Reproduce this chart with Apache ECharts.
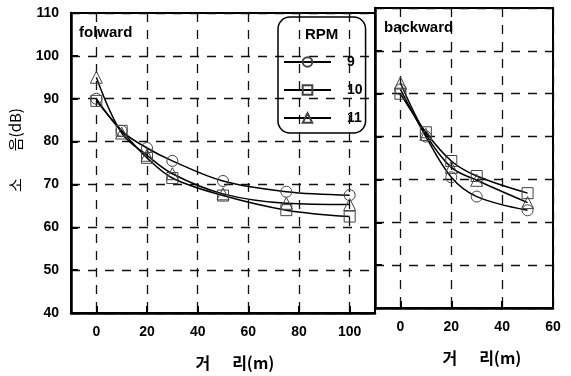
<!DOCTYPE html>
<html>
<head>
<meta charset="utf-8">
<script src="https://cdn.jsdelivr.net/npm/echarts@6/dist/echarts.min.js"></script>
<style>
  html, body { margin: 0; padding: 0; background: #fff; }
  #chart { width: 571px; height: 376px; }
</style>
</head>
<body>
<div id="chart"></div>
<script>
// distances (m)
const distFwd = [0, 10, 20, 30, 50, 75, 100];
const distBwd = [0, 10, 20, 30, 50];

// RPM legend names
const rpmNames = ["9", "10", "11"];

// sound level (dB), forward
const fwd9 = [90, 82.5, 78.5, 75.5, 70.8, 68.3, 67.5];
const fwd10 = [89.5, 82.5, 76.2, 71.5, 67.4, 64, 62.5];
const fwd11 = [95, 82, 76.8, 72.5, 67.8, 65.6, 65.3];

// sound level (dB), backward
const bwd9 = [91, 80, 70.5, 66, 62.8];
const bwd10 = [90, 81, 74.3, 70.8, 66.8];
const bwd11 = [92.5, 80.5, 72.8, 69.8, 64.6];

const xTicksFwd = [0, 20, 40, 60, 80, 100];
const xTicksBwd = [0, 20, 40, 60];

const numFont = "Liberation Sans";
const krFont = "Noto Sans CJK KR";

const chart = echarts.init(document.getElementById("chart"));

const symbols = ["circle", "rect", "triangle"];
const symbolSizes = [11, 11, 12];

function pairs(xs, ys) {
  return xs.map((x, i) => [x, ys[i]]);
}

function makeSeries(idx, xs, ys, name) {
  const k = rpmNames.indexOf(name);
  return {
    type: "line",
    name: name,
    xAxisIndex: idx,
    yAxisIndex: idx,
    data: pairs(xs, ys),
    smooth: 0.35,
    symbol: symbols[k],
    symbolSize: symbolSizes[k],
    itemStyle: { color: "rgba(255,255,255,0)", borderColor: "#444", borderWidth: 1 },
    lineStyle: { color: "#000", width: 1.5 },
    z: 5,
  };
}

const dashed = { color: "#111", width: 1.3, type: [9, 8] };

function xAxisFor(grid, min, max, ticks, nameShift) {
  return {
    type: "value",
    gridIndex: grid,
    min: min,
    max: max,
    name: "거      리(m)",
    nameLocation: "middle",
    nameGap: 42,
    nameTextStyle: { fontFamily: krFont, fontSize: 16, fontWeight: "bold", color: "#000", padding: [0, 0, 0, nameShift] },
    axisLine: { show: true, onZero: false, lineStyle: { color: "#000", width: 2.5 } },
    axisTick: { show: true, inside: true, length: 7, customValues: ticks, lineStyle: { color: "#000", width: 2 } },
    axisLabel: { customValues: ticks, margin: 12, fontFamily: numFont, fontWeight: "bold", fontSize: 14, color: "#000" },
    splitLine: { show: true, lineStyle: dashed },
  };
}

function yAxisFor(grid, showLabels) {
  return {
    type: "value",
    gridIndex: grid,
    min: 40,
    max: 110,
    interval: 10,
    name: showLabels ? "소        음(dB)" : "",
    nameLocation: "middle",
    nameGap: 48,
    nameRotate: 90,
    nameTextStyle: { fontFamily: krFont, fontSize: 15, color: "#000", padding: [0, 0, 0, 26] },
    axisLine: { show: true, onZero: false, lineStyle: { color: "#000", width: 2.5 } },
    axisTick: { show: true, inside: true, length: 7, lineStyle: { color: "#000", width: 2 } },
    axisLabel: { show: showLabels, margin: 12, fontFamily: numFont, fontWeight: "bold", fontSize: 14, color: "#000" },
    splitLine: { show: true, lineStyle: dashed },
  };
}

chart.setOption({
  animation: false,
  backgroundColor: "#fff",
  title: [
    { text: "folward", left: 74, top: 20, textStyle: { fontFamily: numFont, fontWeight: "bold", fontSize: 15, color: "#000" } },
    { text: "backward", left: 379, top: 15, textStyle: { fontFamily: numFont, fontWeight: "bold", fontSize: 15, color: "#000" } },
    { text: "RPM", left: 300, top: 22, textStyle: { fontFamily: numFont, fontWeight: "bold", fontSize: 15, color: "#000" } },
  ],
  legend: {
    data: rpmNames,
    orient: "vertical",
    left: 278,
    top: 17,
    padding: [38, 3, 8, 5],
    itemWidth: 47,
    itemHeight: 12,
    itemGap: 14,
    borderColor: "#000",
    borderWidth: 1.5,
    borderRadius: 12,
    selectedMode: false,
    textStyle: { fontFamily: numFont, fontWeight: "bold", fontSize: 14, color: "#000", padding: [0, 0, 0, 11] },
  },
  grid: [
    { left: 70, top: 13, width: 305, height: 300, show: true, borderColor: "#000", borderWidth: 2 },
    { left: 375, top: 8, width: 178, height: 300, show: true, borderColor: "#000", borderWidth: 2 },
  ],
  xAxis: [
    xAxisFor(0, -10, 110, xTicksFwd, 24),
    xAxisFor(1, -10, 60, xTicksBwd, 36),
  ],
  yAxis: [yAxisFor(0, true), yAxisFor(1, false)],
  series: [
    makeSeries(0, distFwd, fwd9, "9"),
    makeSeries(0, distFwd, fwd10, "10"),
    makeSeries(0, distFwd, fwd11, "11"),
    makeSeries(1, distBwd, bwd9, "9"),
    makeSeries(1, distBwd, bwd10, "10"),
    makeSeries(1, distBwd, bwd11, "11"),
  ],
});
</script>
</body>
</html>
